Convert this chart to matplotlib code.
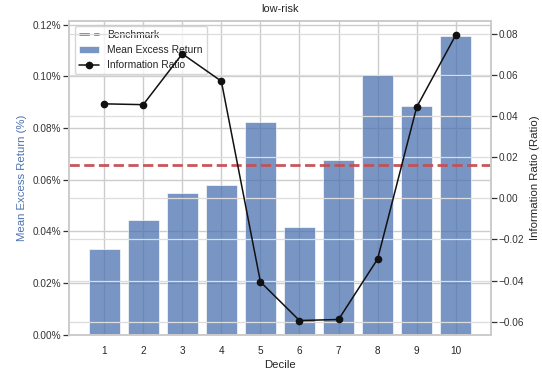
import matplotlib
matplotlib.use("Agg")
import matplotlib.pyplot as plt
import seaborn as sns
import numpy as np
from matplotlib.ticker import FuncFormatter

# Decile results for the low-risk portfolio
deciles = [1, 2, 3, 4, 5, 6, 7, 8, 9, 10]
mean_excess_return = [0.0333, 0.0444, 0.0549, 0.0579, 0.0825, 0.0416, 0.0678, 0.1007, 0.0884, 0.1157]
information_ratio = [0.0459, 0.0455, 0.0702, 0.0569, -0.0406, -0.0594, -0.0589, -0.0295, 0.0443, 0.0793]
benchmark = 0.0656

sns.set_theme(style="whitegrid")
plt.rcParams['font.family'] = ['Liberation Sans', 'DejaVu Sans']
plt.rcParams['ytick.major.size'] = 4
plt.rcParams['ytick.major.width'] = 0.9
plt.rcParams['ytick.color'] = '#333333'

tick_fs = 7.2
label_fs = 8.2

fig = plt.figure(figsize=(5.42, 3.72), dpi=100)
ax1 = fig.add_axes([0.128, 0.100, 0.777, 0.844])

bars = ax1.bar(deciles, mean_excess_return, width=0.8, color='#4C72B0', alpha=0.75,
               edgecolor='white', linewidth=0.6, label='Mean Excess Return')
ax1.axhline(benchmark, color='#C44E52', linestyle='--', linewidth=2, alpha=0.95, label='Benchmark')
ax1.set_xticks(deciles)
ax1.set_xlabel('Decile', fontsize=label_fs, labelpad=3)
ax1.set_ylabel('Mean Excess Return (%)', color='#4C72B0', fontsize=label_fs)
ax1.yaxis.set_major_formatter(FuncFormatter(lambda v, _: f"{v:.2f}%"))
ax1.set_yticks(np.arange(0, 0.121, 0.02))
ax1.tick_params(axis='both', labelsize=tick_fs, pad=2)
ax1.tick_params(axis='y', length=4, color='#333333')
ax1.set_title('low-risk', fontsize=7.9, pad=6)

ax2 = ax1.twinx()
ax2.plot(deciles, information_ratio, color='#111111', marker='o', markersize=4.5,
         linewidth=1.1, label='Information Ratio')
ax2.set_ylabel('Information Ratio (Ratio)', fontsize=label_fs)
ax2.set_yticks(np.arange(-0.06, 0.081, 0.02))
ax2.tick_params(axis='y', labelsize=tick_fs, pad=2, length=4, color='#333333')
ax2.grid(True, color='#dddddd', linewidth=0.9)

h1, l1 = ax1.get_legend_handles_labels()
h2, l2 = ax2.get_legend_handles_labels()
ax1.legend(h1 + h2, l1 + l2, loc='upper left', fontsize=7.4, frameon=True)

fig.savefig('out.png', dpi=100)
